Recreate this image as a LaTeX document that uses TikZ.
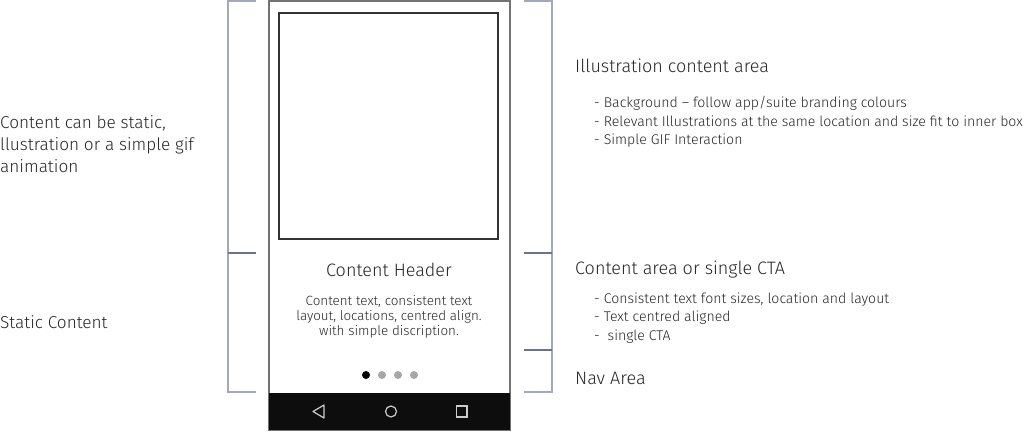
\documentclass[tikz,border=0pt]{standalone}
\usepackage{fontspec}
\setmainfont{Fira Sans Light}
\usetikzlibrary{positioning}
\tikzstyle{mockup} = [x = 1pt, y = -1pt]
\definecolor{bracketColor}{RGB}{164,168,188}
\definecolor{tickColor}{RGB}{108,114,138}
\definecolor{navColor}{RGB}{13,13,13}
\tikzstyle{phoneFrame} = [draw=black!55, line width=1.2pt, fill=white]
\tikzstyle{innerBox} = [draw=black!80, line width=1.1pt]
\tikzstyle{bracketLine} = [color=bracketColor, line width=1.3pt]
\tikzstyle{tickLine} = [color=tickColor, line width=1.3pt]
\tikzstyle{titleText} = [font=\fontsize{18}{21}\selectfont, inner sep=0, text=black!85]
\tikzstyle{noteText} = [font=\fontsize{14.1}{18.5}\selectfont, inner sep=0, align=left, anchor=west, text=black!85]
\tikzstyle{sideText} = [font=\fontsize{17.2}{22}\selectfont, inner sep=0, align=left, anchor=west, text=black!85]
\tikzstyle{bodyText} = [font=\fontsize{13.4}{15}\selectfont, inner sep=0, align=center, text=black!85]
\tikzstyle{pageDot} = [circle, minimum size=8pt, inner sep=0]
\tikzstyle{navIcon} = [draw=white!80!black, line width=1.2pt]
\newcommand{\bracket}[4]{\draw [bracketLine] (#1, #3) -- (#2, #3) -- (#2, #4) -- (#1, #4);}
\newcommand{\bracketTick}[3]{\draw [tickLine] (#1, #3) -- (#2, #3);}

\begin{document}
\begin{tikzpicture}[mockup]
  \useasboundingbox (0,0) rectangle (1024,431);

  % brackets
  \bracket{256}{228}{1}{392}
  \bracketTick{228}{256}{253}
  \bracket{524}{552}{1}{392}
  \bracketTick{524}{552}{253}
  \bracketTick{524}{552}{350}

  % phone
  \filldraw [phoneFrame] (269,1) rectangle (510,430);
  \fill [navColor] (269,393) rectangle (510,430);
  \draw [innerBox] (279,13) rectangle (498,239);
  \node [titleText] (header) at (389,270) {Content Header};
  \node [bodyText] (bodyCopy) at (389,317) {Content text, consistent text\\layout, locations, centred align.\\with simple discription.};
  \foreach \dotX/\dotColor [count=\i] in {366/black, 382/black!35, 398/black!35, 414/black!35} {
    \node [pageDot, fill=\dotColor] (dot\i) at (\dotX,375) {};
  }

  % nav icons
  \draw [navIcon, line join=round] (324,405) -- (313,411.5) -- (324,418) -- cycle;
  \draw [navIcon] (391,411.5) circle (5.5);
  \draw [navIcon] (456.5,406) rectangle (467,417);

  % left notes
  \node [sideText] (leftNote) at (0,144) {Content can be static,\\llustration or a simple gif\\animation};
  \node [sideText] (staticNote) at (0,322) {Static Content};

  % right notes
  \node [titleText, anchor=west] (illusTitle) at (575,66) {Illustration content area};
  \node [noteText] (illusNotes) at (594,122) {- Background -- follow app/suite branding colours\\- Relevant Illustrations at the same location and size fit to inner box\\- Simple GIF Interaction};
  \node [titleText, anchor=west] (contentTitle) at (575,270) {Content area or single CTA};
  \node [noteText] (contentNotes) at (594,318) {- Consistent text font sizes, location and layout\\- Text centred aligned\\-~ single CTA};
  \node [titleText, anchor=west] (navTitle) at (575,378) {Nav Area};
\end{tikzpicture}
\end{document}
